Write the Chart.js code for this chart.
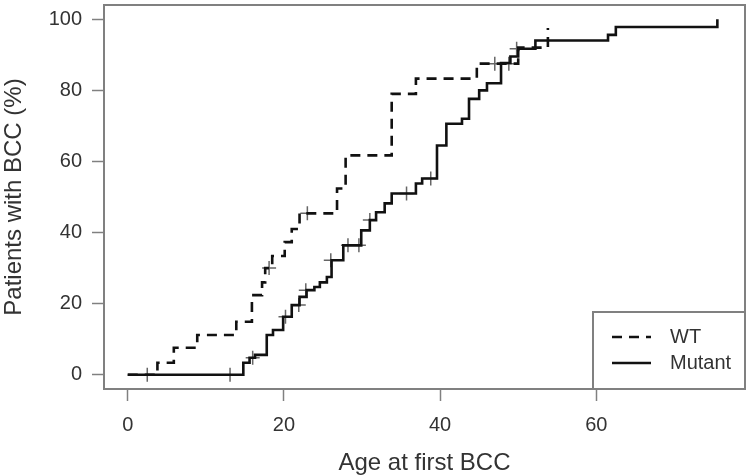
<!DOCTYPE html>
<html>
<head>
<meta charset="utf-8">
<script src="https://cdn.jsdelivr.net/npm/chart.js@4.4.1/dist/chart.umd.min.js"></script>
<style>
  html, body { margin: 0; padding: 0; background: #fff; }
</style>
</head>
<body>
<canvas id="km" width="748" height="475"></canvas>
<script>
'use strict';

// ── data ────────────────────────────────────────────────────
// cumulative % with BCC, value becomes pct[i] at time[i]
const wtTimes  = [0, 3.8, 5.9, 8.9, 13.9, 15.9, 17.2, 17.6, 18.5, 20.1, 21.0, 22.0, 26.8, 27.9, 33.8, 36.9, 44.7, 50.0, 53.8];
const wtPct    = [0, 3.4, 7.6, 11.2, 14.9, 22.4, 26.0, 30.0, 33.4, 37.3, 41.0, 45.4, 52.4, 61.7, 79.0, 83.3, 87.5, 92.0, 97.5];

const mutTimes = [0, 14.8, 15.6, 16.3, 17.8, 18.6, 19.9, 21.0, 22.0, 22.9, 23.9, 24.6, 25.5, 26.1, 27.6, 29.9, 31.0, 31.8,
                  32.9, 33.8, 36.9, 37.7, 39.6, 40.8, 42.8, 43.7, 45.0, 46.0, 47.8, 49.0, 50.0, 52.2, 61.5, 62.5, 75.5];
const mutPct   = [0, 3.4, 4.8, 5.6, 11.2, 12.6, 16.3, 19.6, 21.9, 23.8, 24.7, 26.0, 27.5, 32.2, 36.4, 40.6, 43.5, 45.7,
                  48.2, 51.0, 53.8, 55.2, 64.5, 70.6, 72.0, 77.6, 80.0, 82.0, 87.7, 89.5, 91.7, 94.0, 95.6, 97.8, 100];

// censored observations (+ marks)
const wtCensTimes  = [18.1, 23.0, 47.0, 48.8];
const wtCensPct    = [30.0, 45.4, 87.5, 87.5];
const mutCensTimes = [2.5, 13.1, 16.0, 20.2, 21.9, 22.8, 26.0, 28.2, 29.6, 31.0, 35.7, 38.8, 49.8];
const mutCensPct   = [0, 0, 4.8, 16.3, 19.6, 23.8, 32.2, 36.4, 36.4, 43.5, 51.0, 55.2, 91.7];

const xTicks = [0, 20, 40, 60];
const yTicks = [0, 20, 40, 60, 80, 100];
const legendLabels = ['WT', 'Mutant'];

const AXIS = '#808080';
const TXT  = '#333';

const pts = (xs, ys) => xs.map((x, i) => ({ x: x, y: ys[i] }));

Chart.defaults.font.family = "'Liberation Sans', Arial, sans-serif";
Chart.defaults.color = TXT;

// box round the plot + R-style legend in the bottom-right corner
const frame = {
    id: 'frame',
    afterDatasetsDraw(chart) {
        const { ctx, chartArea: a } = chart;
        ctx.save();
        ctx.strokeStyle = AXIS;
        ctx.lineWidth = 2;
        ctx.strokeRect(a.left, a.top, a.right - a.left, a.bottom - a.top);

        const w = 152, h = 77;
        const lx = a.right - w, ly = a.bottom - h;
        ctx.fillStyle = '#fff';
        ctx.fillRect(lx, ly, w, h);
        ctx.strokeRect(lx, ly, w, h);

        const rows = [ly + 25, ly + 51];
        ctx.strokeStyle = '#111';
        ctx.lineWidth = 2.6;
        rows.forEach((y, i) => {
            ctx.setLineDash(i === 0 ? [10, 7] : []);
            ctx.beginPath();
            ctx.moveTo(lx + 19, y);
            ctx.lineTo(lx + 58, y);
            ctx.stroke();
        });
        ctx.setLineDash([]);
        ctx.fillStyle = TXT;
        ctx.font = "20px 'Liberation Sans', Arial, sans-serif";
        ctx.textBaseline = 'middle';
        legendLabels.forEach((t, i) => ctx.fillText(t, lx + 77, rows[i]));
        ctx.restore();
    }
};

const lineSet = (label, data, dash) => ({
    type: 'line',
    label: label,
    data: data,
    stepped: 'before',
    borderColor: '#111',
    borderWidth: 2.6,
    borderDash: dash,
    pointRadius: 0,
    fill: false,
});

const censSet = (label, data) => ({
    type: 'scatter',
    label: label,
    data: data,
    pointStyle: 'cross',
    pointRadius: 7,
    borderColor: '#666',
    borderWidth: 1.5,
    showLine: false,
});

new Chart(document.getElementById('km'), {
    type: 'line',
    data: {
        datasets: [
            lineSet('WT', pts(wtTimes, wtPct), [10, 7]),
            lineSet('Mutant', pts(mutTimes, mutPct), []),
            censSet('WT censored', pts(wtCensTimes, wtCensPct)),
            censSet('Mutant censored', pts(mutCensTimes, mutCensPct)),
        ]
    },
    options: {
        responsive: false,
        animation: false,
        layout: { autoPadding: false, padding: { top: 5, right: 3 } },
        plugins: { legend: { display: false }, tooltip: { enabled: false } },
        scales: {
            x: {
                type: 'linear',
                min: -3.04,
                max: 79.04,
                afterBuildTicks: s => { s.ticks = xTicks.map(v => ({ value: v })); },
                afterFit: s => { s.height = 86; s.paddingLeft = 0; s.paddingRight = 0; },
                grid: { drawOnChartArea: false, tickLength: 12, color: AXIS, tickWidth: 1.5 },
                border: { display: false },
                ticks: { font: { size: 20 }, padding: 12, maxRotation: 0 },
                title: { display: true, text: 'Age at first BCC', font: { size: 24, lineHeight: 1 }, padding: 0 }
            },
            y: {
                type: 'linear',
                min: -4,
                max: 104,
                afterBuildTicks: s => { s.ticks = yTicks.map(v => ({ value: v })); },
                afterFit: s => { s.width = 104; s.paddingTop = 0; s.paddingBottom = 0; },
                grid: { drawOnChartArea: false, tickLength: 12, color: AXIS, tickWidth: 1.5 },
                border: { display: false },
                ticks: { font: { size: 20 }, padding: 10 },
                title: { display: true, text: 'Patients with BCC (%)', font: { size: 24 }, padding: 0 }
            }
        }
    },
    plugins: [frame]
});
</script>
</body>
</html>
